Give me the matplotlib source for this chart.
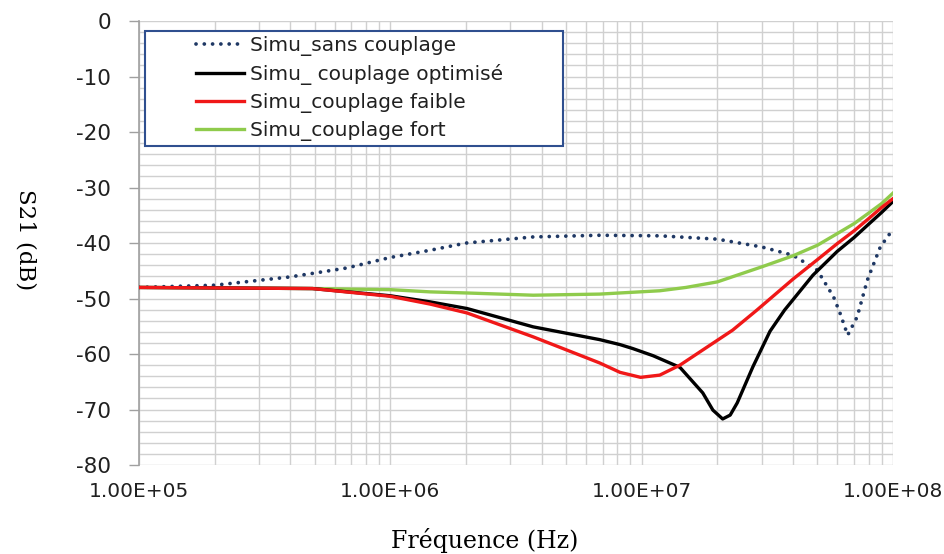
import matplotlib
matplotlib.use('Agg')
import matplotlib.pyplot as plt
from matplotlib.patches import Rectangle
from matplotlib.ticker import FixedLocator, LogLocator, MultipleLocator, NullFormatter

plt.rcParams['axes.unicode_minus'] = False

# values (frequency in Hz, S21 in dB)
f_sans = [1e5, 2e5, 4e5, 6.7e5, 1e6, 1.44e6, 2e6, 3.7e6, 6.8e6, 1.18e7, 2e7, 3e7, 4e7,
          5e7, 5.8e7, 6.15e7, 6.6e7, 7.2e7, 7.9e7, 8.9e7, 1e8]
s_sans = [-48.0, -47.6, -46.1, -44.5, -42.6, -41.3, -40.0, -38.9, -38.6, -38.7, -39.3, -40.7, -42.2,
          -44.9, -49.7, -52.6, -56.6, -53.3, -46.7, -40.7, -37.5]

f_opt = [1e5, 4.9e5, 1e6, 1.44e6, 2.02e6, 3.7e6, 6.8e6, 8.2e6, 9.2e6, 1.11e7, 1.42e7, 1.75e7,
         1.92e7, 2.1e7, 2.25e7, 2.4e7, 2.77e7, 3.24e7, 3.7e7, 4.8e7, 6e7, 7e7, 8e7, 9e7, 1e8]
s_opt = [-48.0, -48.2, -49.5, -50.6, -51.8, -55.1, -57.4, -58.3, -59.0, -60.3, -62.4, -67.0,
         -70.1, -71.7, -71.0, -68.8, -62.3, -55.9, -52.1, -45.8, -41.5, -39.0, -36.6, -34.5, -32.5]

f_faible = [1e5, 4.9e5, 1e6, 1.44e6, 2.02e6, 3.7e6, 6.8e6, 8.2e6, 9.9e6, 1.18e7, 1.42e7, 2.3e7,
            2.87e7, 4e7, 5e7, 6e7, 7e7, 8e7, 9e7, 1e8]
s_faible = [-48.0, -48.2, -49.6, -51.0, -52.6, -56.9, -61.6, -63.3, -64.2, -63.8, -62.0, -55.7,
            -52.1, -46.5, -43.0, -40.1, -37.8, -35.6, -33.6, -32.0]

f_fort = [1e5, 4.9e5, 1e6, 1.44e6, 2.02e6, 3.7e6, 6.8e6, 1.18e7, 1.5e7, 2e7, 3e7, 4e7, 5e7,
          6e7, 7e7, 8e7, 9e7, 1e8]
s_fort = [-48.0, -48.2, -48.4, -48.8, -49.0, -49.4, -49.2, -48.6, -48.0, -47.0, -44.3, -42.3, -40.4,
          -38.3, -36.5, -34.6, -32.9, -31.0]

x_ticks = [1e5, 1e6, 1e7, 1e8]
x_labels = ['1.00E+05', '1.00E+06', '1.00E+07', '1.00E+08']

fig = plt.figure(figsize=(9.44, 5.54), dpi=100)
ax = fig.add_axes([0.1472, 0.1606, 0.7988, 0.8014])

ax.plot(f_sans, s_sans, color='#1F3864', lw=2.7, linestyle=(0, (0.01, 2.2)),
        dash_capstyle='round', label='Simu_sans couplage', zorder=3)
ax.plot(f_opt, s_opt, color='black', lw=2.4, solid_joinstyle='round',
        label='Simu_ couplage optimisé', zorder=4)
ax.plot(f_faible, s_faible, color='#F01818', lw=2.4, solid_joinstyle='round',
        label='Simu_couplage faible', zorder=4)
ax.plot(f_fort, s_fort, color='#8FCB4C', lw=2.4, solid_joinstyle='round',
        label='Simu_couplage fort', zorder=3)

ax.set_xscale('log')
ax.set_xlim(1e5, 1e8)
ax.set_ylim(-80, 0)

ax.xaxis.set_major_locator(FixedLocator(x_ticks))
ax.set_xticklabels(x_labels)
ax.xaxis.set_minor_locator(LogLocator(base=10, subs=range(2, 10)))
ax.xaxis.set_minor_formatter(NullFormatter())
ax.yaxis.set_major_locator(MultipleLocator(10))
ax.yaxis.set_minor_locator(MultipleLocator(2))

ax.grid(True, which='both', color='#D0D0D0', lw=1.0, zorder=0)
ax.set_axisbelow(True)

for s in ['top', 'right', 'bottom']:
    ax.spines[s].set_visible(False)
ax.spines['left'].set_color('#A0A0A0')
ax.spines['left'].set_linewidth(1.2)

ax.tick_params(axis='x', which='both', length=0, pad=12, labelsize=14.5, labelcolor='#202020')
ax.tick_params(axis='y', which='major', length=7, width=1.0, color='#A0A0A0', pad=13,
               labelsize=15.5, labelcolor='#202020')
ax.tick_params(axis='y', which='minor', length=0)

fig.text(0.027, 0.568, 'S21 (dB)', rotation=270, ha='center', va='center',
         family='DejaVu Serif', fontsize=16.5)
fig.text(0.513, 0.024, 'Fréquence (Hz)', ha='center', va='center',
         family='DejaVu Serif', fontsize=17)

# legend box drawn separately so the entries can sit indented like the original
ax.add_patch(Rectangle((0.008, 0.718), 0.554, 0.26, transform=ax.transAxes,
                       facecolor='white', edgecolor='#2F4F8F', lw=1.5, zorder=5,
                       clip_on=False))
leg = ax.legend(loc='upper left', bbox_to_anchor=(0.076, 0.966), frameon=False,
                prop={'family': 'DejaVu Sans', 'size': 14.5}, handlelength=2.35,
                handletextpad=0.3, labelspacing=0.4, borderpad=0, borderaxespad=0)
leg.set_zorder(6)
for t in leg.get_texts():
    t.set_color('#202020')

fig.savefig('out.png', dpi=100)
